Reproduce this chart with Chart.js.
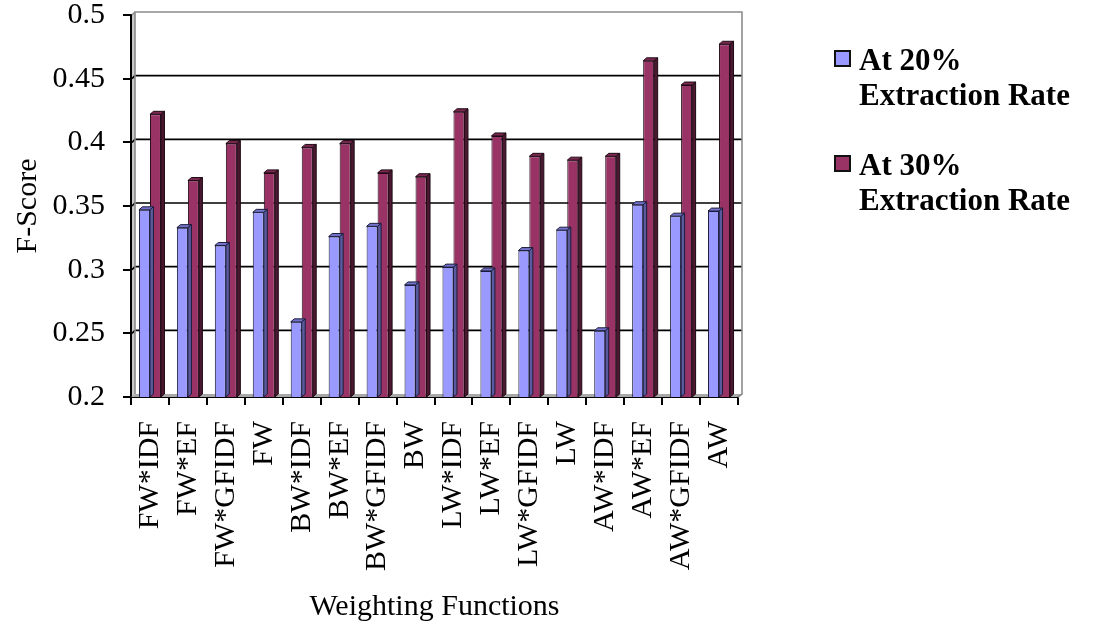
<!DOCTYPE html>
<html>
<head>
<meta charset="utf-8">
<script src="https://cdn.jsdelivr.net/npm/chart.js@4.4.1/dist/chart.umd.min.js"></script>
<style>
  html, body { margin: 0; padding: 0; background: #fff; }
  #wrap { position: relative; width: 1093px; height: 629px; }
  #chart { position: absolute; left: 0; top: 0; }
  .legend { position: absolute; left: 834px; font-family: "Liberation Serif", "Times New Roman", serif; font-weight: bold; font-size: 31px; line-height: 35px; color: #000; }
  .legend .swatch { position: absolute; left: 0; top: 8px; width: 13px; height: 13px; border: 2.5px solid #111; }
  .legend .text { position: absolute; left: 25px; top: 0; white-space: nowrap; }
</style>
</head>
<body>
<div id="wrap">
  <canvas id="chart" width="1093" height="629"></canvas>
  <div class="legend" id="leg0" style="top:42px"><div class="swatch"></div><div class="text"></div></div>
  <div class="legend" id="leg1" style="top:147px"><div class="swatch"></div><div class="text"></div></div>
</div>
<script>
// Weighting functions compared on F-Score
const categories = ['FW*IDF', 'FW*EF', 'FW*GFIDF', 'FW', 'BW*IDF', 'BW*EF', 'BW*GFIDF', 'BW',
                    'LW*IDF', 'LW*EF', 'LW*GFIDF', 'LW', 'AW*IDF', 'AW*EF', 'AW*GFIDF', 'AW'];
const rate20 = [0.347, 0.333, 0.319, 0.345, 0.259, 0.326, 0.334, 0.288,
                0.302, 0.299, 0.315, 0.331, 0.252, 0.351, 0.342, 0.346];
const rate30 = [0.422, 0.370, 0.399, 0.376, 0.396, 0.399, 0.376, 0.373,
                0.424, 0.405, 0.389, 0.386, 0.389, 0.464, 0.445, 0.477];
const seriesNames = [['At 20%', 'Extraction Rate'], ['At 30%', 'Extraction Rate']];
const yTicks = [0.2, 0.25, 0.3, 0.35, 0.4, 0.45, 0.5];

const FONT = '"Liberation Serif", "Times New Roman", serif';
const DX = 4, DY = 3;          // depth offset of the 3D walls
const BDX = 3.5, BDY = 3;      // depth offset of the bar tops/sides

const shades = [
  { front: '#9999ff', top: '#7373cc', side: '#5a5a9e', edge: '#1c1c3a' },
  { front: '#993366', top: '#7a2850', side: '#4a1830', edge: '#1e0a14' }
];

// Back wall, side wall, floor and gridlines drawn behind the bars
const wallPlugin = {
  id: 'walls',
  beforeDatasetsDraw(chart) {
    const { ctx, chartArea: a, scales: { y } } = chart;
    ctx.save();
    // left side wall
    ctx.fillStyle = '#c8c8c8';
    ctx.beginPath();
    ctx.moveTo(a.left + 1, a.bottom);
    ctx.lineTo(a.left + 1, a.top);
    ctx.lineTo(a.left + DX, a.top - DY);
    ctx.lineTo(a.left + DX, a.bottom - DY);
    ctx.closePath();
    ctx.fill();
    // floor
    ctx.fillStyle = '#a8a8a8';
    ctx.beginPath();
    ctx.moveTo(a.left, a.bottom);
    ctx.lineTo(a.left + DX, a.bottom - DY);
    ctx.lineTo(a.right + DX, a.bottom - DY);
    ctx.lineTo(a.right, a.bottom);
    ctx.closePath();
    ctx.fill();
    // gridlines on the back wall
    ctx.strokeStyle = '#000';
    ctx.lineWidth = 1.6;
    yTicks.forEach(v => {
      if (v <= 0.2 || v >= 0.5) return;
      const py = y.getPixelForValue(v);
      ctx.beginPath();
      ctx.moveTo(a.left + 1, py);
      ctx.lineTo(a.left + DX, py - DY);
      ctx.lineTo(a.right + DX, py - DY);
      ctx.stroke();
    });
    // wall frame
    ctx.strokeStyle = '#8c8c8c';
    ctx.lineWidth = 1.6;
    ctx.beginPath();
    ctx.moveTo(a.left + DX, a.bottom - DY);
    ctx.lineTo(a.left + DX, a.top - DY);
    ctx.lineTo(a.right + DX, a.top - DY);
    ctx.lineTo(a.right + DX, a.bottom - DY);
    ctx.lineTo(a.right, a.bottom);
    ctx.stroke();
    ctx.beginPath();
    ctx.moveTo(a.left + 1, a.top);
    ctx.lineTo(a.left + DX, a.top - DY);
    ctx.stroke();
    ctx.restore();
  }
};

// Top and side faces of each bar
const barDepthPlugin = {
  id: 'barDepth',
  afterDatasetDraw(chart, args) {
    const { ctx, chartArea: a } = chart;
    const c = shades[args.index];
    ctx.save();
    ctx.lineWidth = 1;
    ctx.strokeStyle = c.edge;
    args.meta.data.forEach(bar => {
      const { x, y, width } = bar.getProps(['x', 'y', 'width'], true);
      const base = a.bottom;
      const l = x - width / 2, r = x + width / 2;
      ctx.fillStyle = c.top;
      ctx.beginPath();
      ctx.moveTo(l, y); ctx.lineTo(l + BDX, y - BDY); ctx.lineTo(r + BDX, y - BDY); ctx.lineTo(r, y);
      ctx.closePath(); ctx.fill(); ctx.stroke();
      ctx.fillStyle = c.side;
      ctx.beginPath();
      ctx.moveTo(r, y); ctx.lineTo(r + BDX, y - BDY); ctx.lineTo(r + BDX, base - BDY); ctx.lineTo(r, base);
      ctx.closePath(); ctx.fill(); ctx.stroke();
    });
    ctx.restore();
  }
};

const chart = new Chart(document.getElementById('chart'), {
  type: 'bar',
  data: {
    labels: categories,
    datasets: [
      { label: seriesNames[0].join(' '), data: rate20, backgroundColor: shades[0].front,
        borderColor: shades[0].edge, borderWidth: 1 },
      { label: seriesNames[1].join(' '), data: rate30, backgroundColor: shades[1].front,
        borderColor: shades[1].edge, borderWidth: 1 }
    ]
  },
  options: {
    responsive: false,
    animation: false,
    devicePixelRatio: 1,
    layout: { padding: { top: 15, right: 355, left: 6, bottom: 0 } },
    datasets: { bar: { categoryPercentage: 0.58, barPercentage: 1.0 } },
    plugins: { legend: { display: false }, tooltip: { enabled: false } },
    scales: {
      x: {
        afterFit(scale) { scale.height = 232; },
        grid: { offset: true, drawOnChartArea: false, drawTicks: true, tickLength: 8, color: '#000', lineWidth: 2 },
        border: { display: true, color: '#000', width: 2 },
        ticks: { color: '#000', font: { family: FONT, size: 30, lineHeight: 1.0 }, minRotation: 90, maxRotation: 90, padding: 16, autoSkip: false },
        title: { display: true, text: 'Weighting Functions', color: '#000', font: { family: FONT, size: 30, lineHeight: 1.2 }, padding: { top: 4, bottom: 4 } }
      },
      y: {
        min: 0.2, max: 0.5,
        afterFit(scale) { scale.width = 125; scale.paddingTop = 0; scale.paddingBottom = 0; },
        afterBuildTicks(scale) { scale.ticks = yTicks.map(v => ({ value: v })); },
        grid: { drawOnChartArea: false, drawTicks: true, tickLength: 8, color: '#000', lineWidth: 2 },
        border: { display: true, color: '#000', width: 2 },
        ticks: { color: '#000', font: { family: FONT, size: 30, lineHeight: 1.0 }, padding: 18,
                 callback: v => String(+(+v).toFixed(2)) },
        title: { display: true, text: 'F-Score', color: '#000', font: { family: FONT, size: 30, lineHeight: 1.2 }, padding: { top: 4, bottom: 4 } }
      }
    }
  },
  plugins: [wallPlugin, barDepthPlugin]
});

// legend built from the chart's datasets
chart.data.datasets.forEach((ds, i) => {
  const el = document.getElementById('leg' + i);
  el.querySelector('.swatch').style.background = ds.backgroundColor;
  el.querySelector('.text').innerHTML = seriesNames[i].join('<br>');
});
</script>
</body>
</html>
